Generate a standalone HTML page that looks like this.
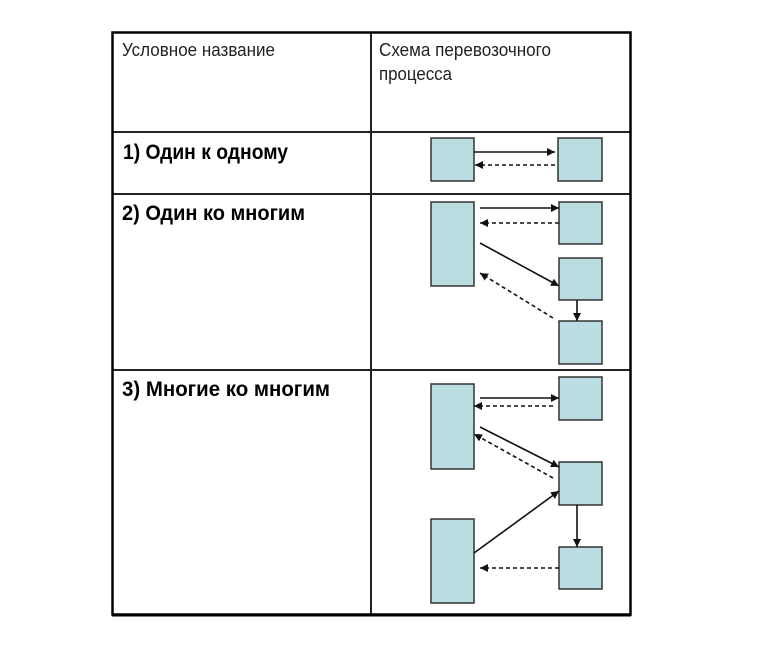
<!DOCTYPE html>
<html><head><meta charset="utf-8"><style>
html,body{margin:0;padding:0;background:#fff;}
svg{display:block;}
text{font-family:"Liberation Sans",Arial,"Noto Sans CJK SC",sans-serif;fill:#000;}
</style></head><body>
<svg width="776" height="671" viewBox="0 0 776 671" xmlns="http://www.w3.org/2000/svg">
<defs>
<marker id="ah" viewBox="0 0 10 10" refX="10" refY="5" markerWidth="8" markerHeight="8" markerUnits="userSpaceOnUse" orient="auto">
<path d="M0,0 L10,5 L0,10 z" fill="#111"/>
</marker>
</defs>
<rect x="0" y="0" width="776" height="671" fill="#fff"/>
<!-- table grid -->
<g stroke="#222" stroke-width="2" fill="none">
<line x1="371" y1="32" x2="371" y2="615"/>
<line x1="112" y1="132" x2="631" y2="132"/>
<line x1="112" y1="194" x2="631" y2="194"/>
<line x1="112" y1="370" x2="631" y2="370"/>
</g>
<rect x="112.5" y="32.5" width="518" height="582" fill="none" stroke="#000" stroke-width="2.5"/>
<line x1="112" y1="615" x2="631" y2="615" stroke="#000" stroke-width="3"/>
<!-- texts -->
<text x="122" y="56" font-size="18" textLength="153" lengthAdjust="spacingAndGlyphs" style="fill:#222">Условное название</text>
<text x="379" y="56" font-size="18" textLength="172" lengthAdjust="spacingAndGlyphs" style="fill:#222">Схема перевозочного</text>
<text x="379" y="80" font-size="18" textLength="73" lengthAdjust="spacingAndGlyphs" style="fill:#222">процесса</text>
<text x="123" y="159" font-size="21" font-weight="bold" textLength="165" lengthAdjust="spacingAndGlyphs">1) Один к одному</text>
<text x="122" y="220" font-size="21" font-weight="bold" textLength="183" lengthAdjust="spacingAndGlyphs">2) Один ко многим</text>
<text x="122" y="396" font-size="21" font-weight="bold" textLength="208" lengthAdjust="spacingAndGlyphs">3) Многие ко многим</text>
<!-- boxes -->
<g fill="#b9dde0" stroke="#333" stroke-width="1.5">
<rect x="431" y="138" width="43" height="43"/>
<rect x="558" y="138" width="44" height="43"/>
<rect x="431" y="202" width="43" height="84"/>
<rect x="559" y="202" width="43" height="42"/>
<rect x="559" y="258" width="43" height="42"/>
<rect x="559" y="321" width="43" height="43"/>
<rect x="431" y="384" width="43" height="85"/>
<rect x="559" y="377" width="43" height="43"/>
<rect x="559" y="462" width="43" height="43"/>
<rect x="559" y="547" width="43" height="42"/>
<rect x="431" y="519" width="43" height="84"/>
</g>
<!-- arrows -->
<g stroke="#111" stroke-width="1.6" fill="none" marker-end="url(#ah)">
<line x1="474" y1="152" x2="555" y2="152"/>
<line x1="555" y1="165" x2="475" y2="165" stroke-dasharray="4,3"/>
<line x1="480" y1="208" x2="559" y2="208"/>
<line x1="559" y1="223" x2="480" y2="223" stroke-dasharray="4,3"/>
<line x1="480" y1="243" x2="559" y2="286"/>
<line x1="553" y1="318" x2="480" y2="273" stroke-dasharray="4,3"/>
<line x1="577" y1="300" x2="577" y2="321"/>
<line x1="480" y1="398" x2="559" y2="398"/>
<line x1="553" y1="406" x2="474" y2="406" stroke-dasharray="4,3"/>
<line x1="480" y1="427" x2="559" y2="467"/>
<line x1="553" y1="478" x2="474" y2="434" stroke-dasharray="4,3"/>
<line x1="474" y1="553" x2="559" y2="491"/>
<line x1="577" y1="505" x2="577" y2="547"/>
<line x1="559" y1="568" x2="480" y2="568" stroke-dasharray="4,3"/>
</g>
</svg>
</body></html>
